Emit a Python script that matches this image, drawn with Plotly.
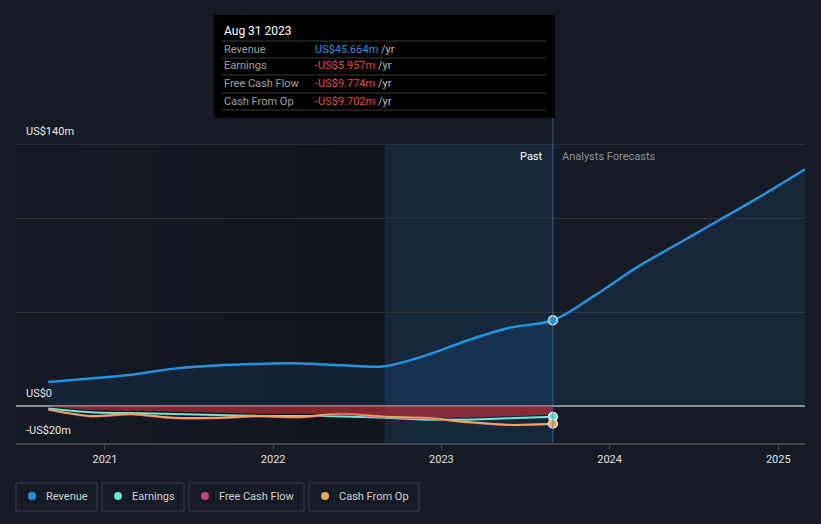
import plotly.graph_objects as go

# ---------- 数据 ----------
past_dates = ["2020-08-31", "2020-11-30", "2021-02-28", "2021-05-31", "2021-08-31",
              "2021-11-30", "2022-02-28", "2022-05-31", "2022-08-31", "2022-11-30",
              "2023-02-28", "2023-05-31", "2023-08-31"]
revenue_past = [12.6, 14.5, 16.5, 19.8, 21.5, 22.3, 22.6, 21.6, 21.1, 27.0, 35.0, 41.8, 45.664]
earnings = [-1.5, -3.5, -4.0, -4.5, -5.0, -5.5, -5.5, -5.8, -6.5, -7.5, -7.5, -6.8, -5.957]
fcf = [-2.2, -5.8, -4.8, -6.8, -6.8, -5.8, -6.3, -4.5, -6.1, -6.7, -9.0, -10.4, -9.774]
cfo = [-2.0, -5.5, -4.5, -6.5, -6.5, -5.5, -6.0, -4.2, -5.8, -6.5, -8.8, -10.3, -9.702]

fc_dates = ["2023-08-31", "2023-11-30", "2024-02-29", "2024-05-31", "2024-08-31",
            "2024-11-30", "2025-02-28"]
revenue_fc = [45.664, 59.0, 74.0, 87.0, 100.0, 113.0, 126.5]

year_ticks = ["2021-01-01", "2022-01-01", "2023-01-01", "2024-01-01", "2025-01-01"]
year_labels = ["2021", "2022", "2023", "2024", "2025"]

tip_rows = [("Revenue", "US$45.664m", "#2394df"),
            ("Earnings", "-US$5.957m", "#e5484d"),
            ("Free Cash Flow", "-US$9.774m", "#e5484d"),
            ("Cash From Op", "-US$9.702m", "#e5484d")]
legend_items = [("Revenue", "#2394df"), ("Earnings", "#6ee6d3"),
                ("Free Cash Flow", "#c2407e"), ("Cash From Op", "#e8a85e")]

C_REV, C_EARN, C_FCF, C_CFO = "#2394df", "#6ee6d3", "#c2407e", "#e8a85e"
BG = "#151a24"
W, H = 821, 524
L, R, T, B = 16, 16, 144, 81


def px_x(p):
    return (p - L) / (W - L - R)


def px_y(p):
    return (H - B - p) / (H - T - B)


fig = go.Figure()

# 营收（过去 + 预测）
fig.add_trace(go.Scatter(x=past_dates + fc_dates[1:], y=revenue_past + revenue_fc[1:],
                         mode="lines", line=dict(color=C_REV, width=2.5, shape="spline", smoothing=1.0),
                         fill="tozeroy", fillcolor="rgba(33,120,200,0.13)", hoverinfo="skip"))
fig.add_trace(go.Scatter(x=past_dates, y=earnings, mode="lines",
                         line=dict(color=C_EARN, width=2, shape="spline", smoothing=0.8), hoverinfo="skip"))
fig.add_trace(go.Scatter(x=past_dates, y=fcf, mode="lines",
                         line=dict(color=C_FCF, width=2, shape="spline", smoothing=0.8), hoverinfo="skip"))
fig.add_trace(go.Scatter(x=past_dates, y=cfo, mode="lines",
                         line=dict(color=C_CFO, width=2, shape="spline", smoothing=0.8), hoverinfo="skip"))
# 亏损红色填充
fig.add_trace(go.Scatter(x=past_dates, y=[e + 1.2 for e in earnings], mode="lines",
                         line=dict(width=0, shape="spline", smoothing=0.8),
                         fill="tozeroy", fillcolor="rgba(200,50,55,0.62)", hoverinfo="skip"))

# 末端标记
end = past_dates[-1]
for val, col in [(revenue_past[-1], C_REV), (earnings[-1], C_EARN), (cfo[-1], C_CFO)]:
    fig.add_trace(go.Scatter(x=[end], y=[val], mode="markers",
                             marker=dict(color=col, size=9, line=dict(color="white", width=1.2)),
                             hoverinfo="skip"))

shapes = []
# 左侧渐暗
steps = 10
left_dates = ["2020-06-22", "2020-09-05", "2020-11-20", "2021-02-05", "2021-04-22", "2021-07-08",
              "2021-09-23", "2021-12-08", "2022-02-22", "2022-05-10", "2022-08-31"]
for i in range(steps):
    shapes.append(dict(type="rect", xref="x", yref="paper", x0=left_dates[i], x1=left_dates[i + 1],
                       y0=0, y1=1, fillcolor=f"rgba(0,0,0,{0.01 + 0.017 * i:.3f})",
                       line=dict(width=0), layer="below"))
# 过去一年高亮带
shapes.append(dict(type="rect", xref="x", yref="paper", x0="2022-08-31", x1=end, y0=0, y1=1,
                   fillcolor="rgba(25,110,180,0.16)", line=dict(width=0), layer="below"))
# 顶部网格线
shapes.append(dict(type="line", xref="paper", yref="y", x0=0, x1=1, y0=140, y1=140,
                   line=dict(color="#3a3f48", width=1)))
# 竖线
shapes.append(dict(type="line", xref="x", yref="paper", x0=end, x1=end, y0=0, y1=px_y(118),
                   line=dict(color="rgba(70,120,160,0.7)", width=1)))

# 提示框
shapes.append(dict(type="rect", xref="paper", yref="paper", x0=px_x(214), x1=px_x(555),
                   y0=px_y(118), y1=px_y(15), fillcolor="#000000", line=dict(width=0)))
sep_y = [41, 58, 75, 93, 110]
for sy in sep_y:
    shapes.append(dict(type="line", xref="paper", yref="paper", x0=px_x(222), x1=px_x(546),
                       y0=px_y(sy), y1=px_y(sy), line=dict(color="#3a3a3a", width=1)))

annotations = [dict(xref="paper", yref="paper", x=px_x(222), y=px_y(31), text="Aug 31 2023",
                    showarrow=False, xanchor="left", yanchor="middle",
                    font=dict(color="white", size=12))]
row_y = [49, 66, 84, 101]
for (lab, val, col), ry in zip(tip_rows, row_y):
    annotations.append(dict(xref="paper", yref="paper", x=px_x(222), y=px_y(ry), text=lab,
                            showarrow=False, xanchor="left", yanchor="middle",
                            font=dict(color="#a0a0a0", size=11)))
    annotations.append(dict(xref="paper", yref="paper", x=px_x(313), y=px_y(ry),
                            text=f'<span style="color:{col}">{val}</span> /yr',
                            showarrow=False, xanchor="left", yanchor="middle",
                            font=dict(color="#bbbbbb", size=11)))

# Past / Analysts Forecasts
annotations.append(dict(xref="x", yref="paper", x=end, y=px_y(156), text="Past", showarrow=False,
                        xanchor="right", yanchor="middle", xshift=-8, font=dict(color="white", size=11)))
annotations.append(dict(xref="x", yref="paper", x=end, y=px_y(156), text="Analysts Forecasts",
                        showarrow=False, xanchor="left", yanchor="middle", xshift=7,
                        font=dict(color="#8e939a", size=11)))

# Y 轴标签
for yv, txt in [(140, "US$140m"), (0, "US$0"), (-20, "-US$20m")]:
    annotations.append(dict(xref="paper", yref="y", x=px_x(24), y=yv, text=txt, showarrow=False,
                            xanchor="left", yanchor="bottom", yshift=4,
                            font=dict(color="#e8e8e8", size=11)))

# 图例
boxes = [(16, 97), (102, 184), (189, 304), (309, 419)]
for (lab, col), (bx0, bx1) in zip(legend_items, boxes):
    shapes.append(dict(type="rect", xref="paper", yref="paper", x0=px_x(bx0), x1=px_x(bx1),
                       y0=px_y(511), y1=px_y(483), fillcolor="rgba(0,0,0,0)",
                       line=dict(color="#3b4049", width=1)))
    shapes.append(dict(type="circle", xref="paper", yref="paper", x0=px_x(bx0 + 12), x1=px_x(bx0 + 20),
                       y0=px_y(500), y1=px_y(492), fillcolor=col, line=dict(width=0)))
    annotations.append(dict(xref="paper", yref="paper", x=px_x(bx0 + 28), y=px_y(496), text=lab,
                            showarrow=False, xanchor="left", yanchor="middle",
                            font=dict(color="#cfd2d6", size=11)))

fig.update_layout(
    width=W, height=H, margin=dict(l=L, r=R, t=T, b=B),
    paper_bgcolor=BG, plot_bgcolor=BG, showlegend=False,
    font=dict(family="Roboto", color="#dddddd"),
    shapes=shapes, annotations=annotations,
    xaxis=dict(type="date", range=["2020-06-22", "2025-02-28"], tickvals=year_ticks, ticktext=year_labels,
               showgrid=False, showline=True, linecolor="#41464e", linewidth=1.5,
               ticks="outside", ticklen=5, tickcolor="#41464e", tickfont=dict(size=11, color="#e0e0e0"),
               zeroline=False),
    yaxis=dict(range=[-20, 140], tickvals=[-20, 0, 50, 100, 140], showticklabels=False,
               gridcolor="#2b3039", gridwidth=1, zeroline=True, zerolinecolor="#8b8f95", zerolinewidth=2,
               fixedrange=True),
)

fig.write_html("out.html", config={"displayModeBar": False},
               post_script="document.body.style.margin='0';document.body.style.background='#151a24';")
